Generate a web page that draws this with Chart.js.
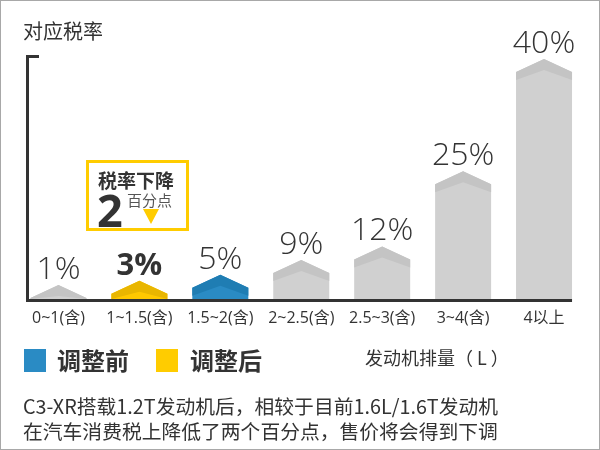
<!DOCTYPE html>
<html><head><meta charset="utf-8">
<script src="https://cdn.jsdelivr.net/npm/chart.js@4"></script>
<style>
html,body{margin:0;padding:0;background:#fff;}
#wrap{position:relative;width:600px;height:450px;overflow:hidden;background:#fff;font-family:"Noto Sans CJK SC","Noto Sans",sans-serif;color:#333;}
#frame{position:absolute;left:0;top:0;width:600px;height:450px;box-sizing:border-box;border:1px solid #a8a8a8;pointer-events:none;}
canvas{position:absolute;left:0;top:0;}
.t{position:absolute;white-space:nowrap;line-height:1;}
</style>
</head><body>
<div id="wrap">
<canvas id="c" width="600" height="450"></canvas>
<div class="t" id="ytitle" style="left:23px;top:21px;font-size:20px;">对应税率</div>
<div id="callout" style="position:absolute;left:86px;top:160px;width:103px;height:71px;box-sizing:border-box;border:3px solid #ffcc00;background:#fff;">
  <div class="t" style="left:9px;top:7px;font-size:19px;font-weight:700;">税率下降</div>
  <div class="t" style="left:8px;top:24px;font-size:45px;font-weight:700;font-family:'Open Sans',sans-serif;">2</div>
  <div class="t" style="left:38px;top:29px;font-size:15px;color:#555;">百分点</div>
  <div style="position:absolute;left:54px;top:46px;width:0;height:0;border-left:8px solid transparent;border-right:8px solid transparent;border-top:15px solid #ffcc00;"></div>
</div>
<div style="position:absolute;left:24px;top:349px;width:22px;height:23px;background:#2a8bc4;"></div>
<div class="t" id="lg1" style="left:57px;top:348px;font-size:24px;font-weight:700;"></div>
<div style="position:absolute;left:156px;top:349px;width:22px;height:23px;background:#ffcc00;"></div>
<div class="t" id="lg2" style="left:190px;top:348px;font-size:24px;font-weight:700;"></div>
<div class="t" id="xtitle" style="left:365px;top:348px;font-size:18px;">发动机排量（ L ）</div>
<div class="t" style="left:23px;top:393px;font-size:19.8px;line-height:25px;">C3-XR搭载1.2T发动机后，相较于目前1.6L/1.6T发动机<br>在汽车消费税上降低了两个百分点，售价将会得到下调</div>
<div id="frame"></div>
</div>
<script>
// ---- data ----
const categories = ['0~1(含)', '1~1.5(含)', '1.5~2(含)', '2~2.5(含)', '2.5~3(含)', '3~4(含)', '4以上'];
const otherRates  = [1, null, null, 9, 12, 25, 40];
const beforeRates = [null, null, 5, null, null, null, null];
const afterRates  = [null, 3, null, null, null, null, null];
const seriesNames = ['其他', '调整前', '调整后'];
const yMax = 40;

document.getElementById('lg1').textContent = seriesNames[1];
document.getElementById('lg2').textContent = seriesNames[2];

// power scale (bars in the reference grow faster than linear)
const EXP = 1.45;
class PowScale extends Chart.LinearScale {
  getPixelForValue(value) {
    const v = Math.max(0, value - this.min) / (this.max - this.min);
    return this.getPixelForDecimal(Math.pow(v, EXP));
  }
  getValueForPixel(pixel) {
    const d = Math.max(0, this.getDecimalForPixel(pixel));
    return this.min + Math.pow(d, 1 / EXP) * (this.max - this.min);
  }
}
PowScale.id = 'pow';
PowScale.defaults = Chart.LinearScale.defaults;
Chart.register(PowScale);

const palette = [
  {body:'#d0d0d0', band:'#c4c4c4', font:'300 32px "Open Sans", sans-serif'},
  {body:'#2a8bc4', band:'#1f7db3', font:'300 32px "Open Sans", sans-serif'},
  {body:'#ffc800', band:'#e9b600', font:'700 31px "Open Sans", sans-serif'}
];

const arrowPlugin = {
  id: 'arrowBars',
  afterDatasetsDraw(chart) {
    const ctx = chart.ctx;
    const cap = 13;
    chart.data.datasets.forEach((ds, di) => {
      const meta = chart.getDatasetMeta(di);
      const pal = palette[di];
      meta.data.forEach((el, i) => {
        const v = ds.data[i];
        if (v === null || v === undefined) return;
        const w = el.width, cx = el.x, l = cx - w / 2, r = cx + w / 2;
        const y = el.y, base = el.base;
        ctx.save();
        ctx.fillStyle = pal.body;
        ctx.beginPath();
        ctx.moveTo(l, base); ctx.lineTo(l, y); ctx.lineTo(cx, y - cap);
        ctx.lineTo(r, y); ctx.lineTo(r, base); ctx.closePath(); ctx.fill();
        ctx.fillStyle = pal.band;
        ctx.beginPath();
        ctx.moveTo(l, Math.min(y + 8, base)); ctx.lineTo(l, y); ctx.lineTo(cx, y - cap);
        ctx.lineTo(r, y); ctx.lineTo(r, Math.min(y + 8, base));
        ctx.lineTo(cx, Math.min(y - 2, base)); ctx.closePath(); ctx.fill();
        ctx.fillStyle = '#333';
        ctx.font = pal.font;
        ctx.textAlign = 'center';
        ctx.textBaseline = 'alphabetic';
        ctx.fillText(v + '%', cx, y - cap - 6);
        ctx.restore();
      });
    });
    const a = chart.chartArea;
    const x0 = a.left + 8;
    const lastMeta = chart.getDatasetMeta(0).data[categories.length - 1];
    const x1 = lastMeta.x + lastMeta.width / 2;
    ctx.save();
    ctx.fillStyle = '#333';
    ctx.fillRect(x0, 55, 3, a.bottom + 3 - 55);
    ctx.fillRect(x0, 55, 13, 3);
    ctx.fillRect(x0, a.bottom, x1 - x0, 3);
    ctx.restore();
  }
};

new Chart(document.getElementById('c'), {
  type: 'bar',
  data: {
    labels: categories,
    datasets: [
      {label: seriesNames[0], data: otherRates},
      {label: seriesNames[1], data: beforeRates},
      {label: seriesNames[2], data: afterRates}
    ].map(d => Object.assign(d, {backgroundColor: 'rgba(0,0,0,0)', barPercentage: 0.692, categoryPercentage: 1}))
  },
  options: {
    responsive: false,
    animation: false,
    events: [],
    layout: {padding: {left: 18, right: 15.5, top: 72, bottom: 121}},
    plugins: {legend: {display: false}, tooltip: {enabled: false}},
    scales: {
      x: {
        stacked: true,
        grid: {display: false, drawTicks: false},
        border: {display: false},
        ticks: {color: '#333', padding: 10, maxRotation: 0, autoSkip: false,
                font: {size: 16, family: '"Open Sans","Noto Sans CJK SC",sans-serif'}},
        afterFit(s) { s.height = 30; }
      },
      y: {type: 'pow', stacked: true, min: 0, max: yMax, display: false}
    }
  },
  plugins: [arrowPlugin]
});
</script>
</body></html>
